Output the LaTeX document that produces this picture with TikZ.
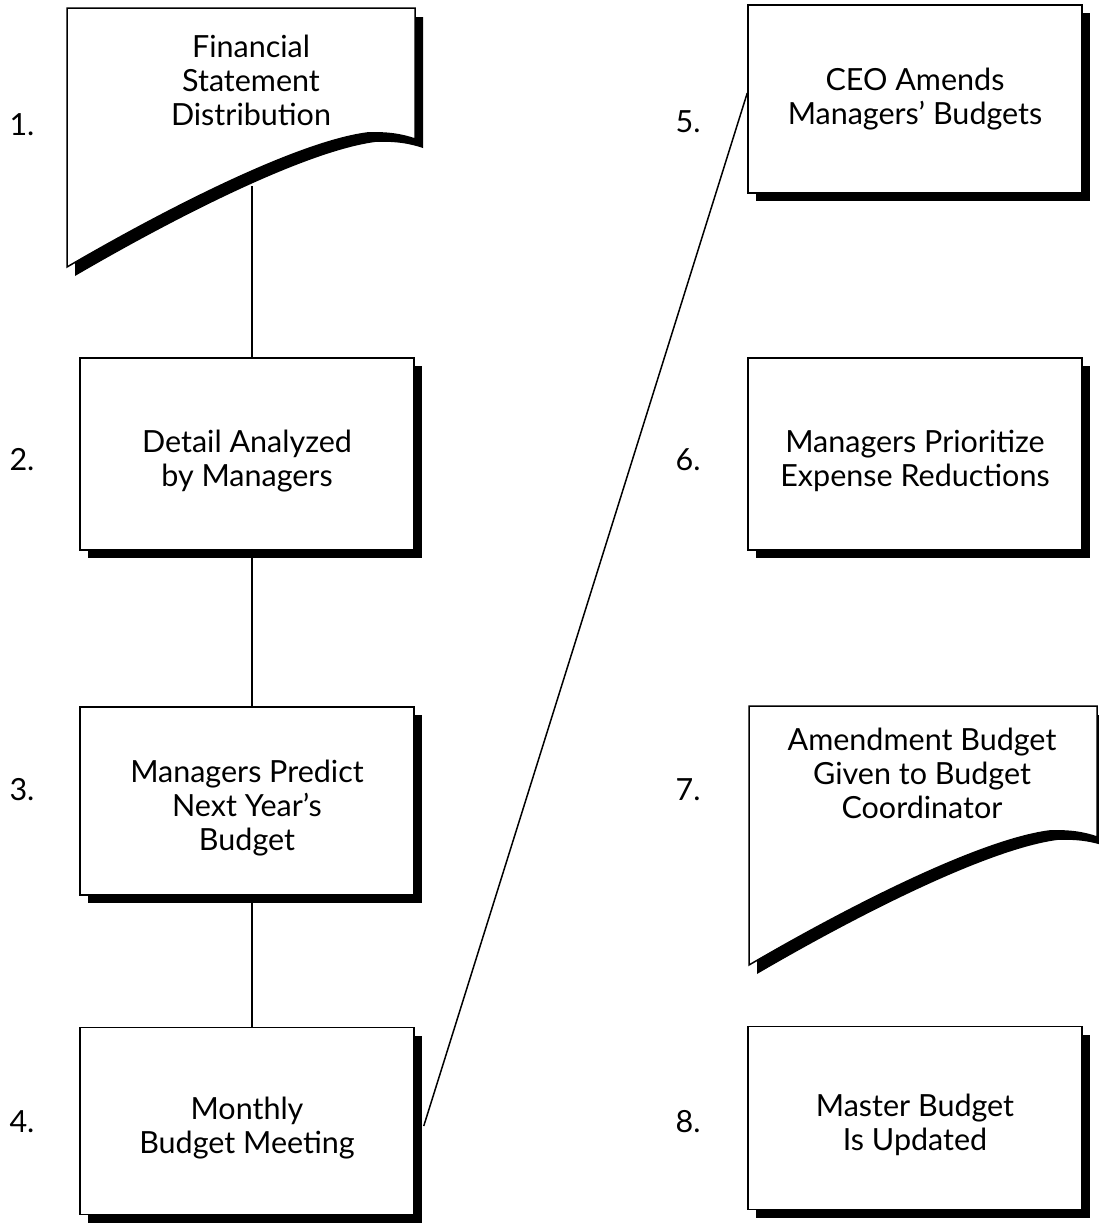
\documentclass[tikz,border=0pt]{standalone}
\usepackage{fontspec}
\setmainfont{Lato}
\usetikzlibrary{shadows, calc}

\newcommand\topgap{\rule{0pt}{36pt}}

\tikzset{
  boxfont/.style={font=\fontsize{30.5}{34}\selectfont},
  stepbox/.style={draw, line width=1.5pt, fill=white, boxfont, align=center,
    minimum width=334pt,
    general shadow={fill=black, shadow xshift=8pt, shadow yshift=-8pt}},
  steplabel/.style={boxfont},
  link/.style={line width=1.5pt},
  docpage/.pic={
    \path[fill=black, shift={(8,9)}] (0,0) -- (348,0) -- (348,131)
      .. controls (336,127) and (322,124) .. (300,125)
      .. controls (233,134) and (108,196) .. (0,259) -- cycle;
    \path[draw, fill=white, line width=1.5pt] (0,0) -- (348,0) -- (348,131)
      .. controls (336,127) and (322,124) .. (300,125)
      .. controls (233,134) and (108,196) .. (0,259) -- cycle;
    \coordinate (-out) at (185,178);
  }
}

\begin{document}
\begin{tikzpicture}[x=1pt, y=-1pt]
  \useasboundingbox (0,0) rectangle (1099,1224);

  % Left column
  \pic (fin) at (67,8) {docpage};
  \node[boxfont, align=center] (fintxt) at (251,80) {Financial\\Statement\\Distribution};
  \node[stepbox, minimum height=192pt] (detail) at (247,454) {\topgap Detail Analyzed\\by Managers};
  \node[stepbox, minimum height=188pt] (predict) at (247,801) {\topgap Managers Predict\\Next Year’s\\Budget};
  \node[stepbox, minimum height=187pt] (meeting) at (247,1121) {\topgap Monthly\\Budget Meeting};

  % Right column
  \node[stepbox, minimum height=188pt] (ceo) at (915,99) {CEO Amends\\Managers’ Budgets};
  \node[stepbox, minimum height=192pt] (prior) at (915,454) {\topgap Managers Prioritize\\Expense Reductions};
  \pic (amend) at (749,706) {docpage};
  \node[boxfont, align=center] (amendtxt) at (922,773) {Amendment Budget\\Given to Budget\\Coordinator};
  \node[stepbox, minimum height=183pt] (master) at (915,1118) {\topgap Master Budget\\Is Updated};

  % Step numbers
  \node[steplabel] (n1) at (22,125) {1.};
  \node[steplabel] (n2) at (22,460) {2.};
  \node[steplabel] (n3) at (22,790) {3.};
  \node[steplabel] (n4) at (22,1122) {4.};
  \node[steplabel] (n5) at (688,122) {5.};
  \node[steplabel] (n6) at (688,460) {6.};
  \node[steplabel] (n7) at (688,790) {7.};
  \node[steplabel] (n8) at (688,1122) {8.};

  % Connect the steps
  \draw[link] (fin-out) -- (fin-out |- detail.north);
  \draw[link] (fin-out |- detail.south) -- (fin-out |- predict.north);
  \draw[link] (fin-out |- predict.south) -- (fin-out |- meeting.north);
  \draw[link] ($(meeting.east)+(9,5)$) -- ($(ceo.west)+(0,-6)$);

\end{tikzpicture}
\end{document}
